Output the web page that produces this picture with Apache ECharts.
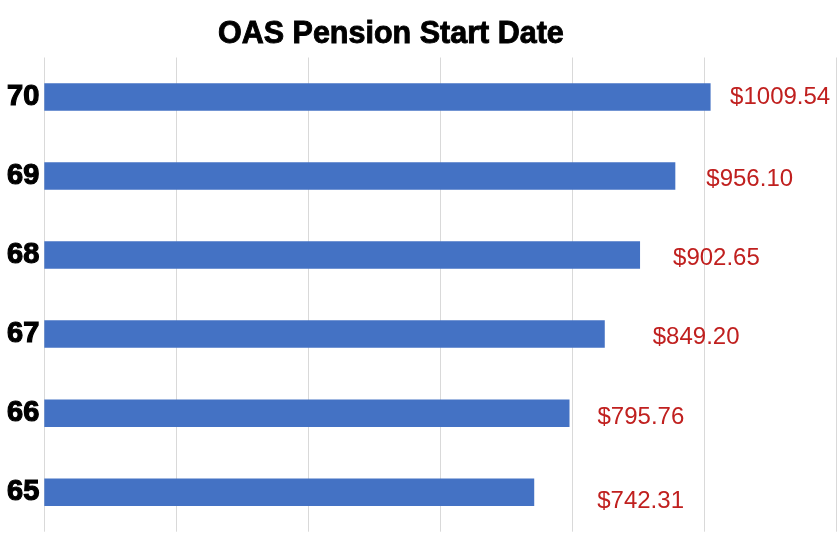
<!DOCTYPE html>
<html>
<head>
<meta charset="utf-8">
<script src="https://cdn.jsdelivr.net/npm/echarts@6/dist/echarts.min.js"></script>
<style>html,body{margin:0;padding:0;background:#fff}#c{width:837px;height:534px}</style>
</head>
<body>
<div id="c"></div>
<script>
const categories = ['65', '66', '67', '68', '69', '70'];
const values = [742.31, 795.76, 849.20, 902.65, 956.10, 1009.54];
const labelTexts = ['$742.31', '$795.76', '$849.20', '$902.65', '$956.10', '$1009.54'];
// label placement tweaks (styling, not data)
const labelOffsets = [[63, 9.5], [28, 4.7], [48, 3], [33, 3], [31, 3], [19.5, 0.5]];

const chart = echarts.init(document.getElementById('c'));
chart.setOption({
  animation: false,
  title: {
    text: 'OAS Pension Start Date',
    left: 218,
    top: 19,
    padding: 0,
    textStyle: { fontFamily: 'Liberation Sans, Arial, sans-serif', fontSize: 30.5, fontWeight: 'bold', color: '#000',
      textBorderColor: '#000', textBorderWidth: 0.9 }
  },
  grid: { left: 44.3, right: 0.7, top: 57.5, bottom: 2.3, containLabel: false },
  xAxis: {
    type: 'value', min: 0, max: 1200, interval: 200,
    axisLabel: { show: false }, axisLine: { show: false }, axisTick: { show: false },
    splitLine: { show: true, lineStyle: { color: '#d9d9d9', width: 1 } }
  },
  yAxis: {
    type: 'category', data: categories,
    axisLine: { show: false }, axisTick: { show: false },
    axisLabel: { margin: 5, fontFamily: 'Liberation Sans, Arial, sans-serif', fontSize: 29, fontWeight: 'bold', color: '#000',
      textBorderColor: '#000', textBorderWidth: 1.2, padding: [7, 0, 0, 0] }
  },
  series: [{
    type: 'bar',
    barWidth: 27.5,
    itemStyle: { color: '#4472c4' },
    data: values.map((v, i) => ({
      value: v,
      label: {
        show: true, position: 'right', distance: 0,
        offset: labelOffsets[i],
        formatter: labelTexts[i],
        fontFamily: 'Liberation Sans, Arial, sans-serif', fontSize: 24, color: '#c0201f'
      }
    }))
  }]
});
</script>
</body>
</html>
